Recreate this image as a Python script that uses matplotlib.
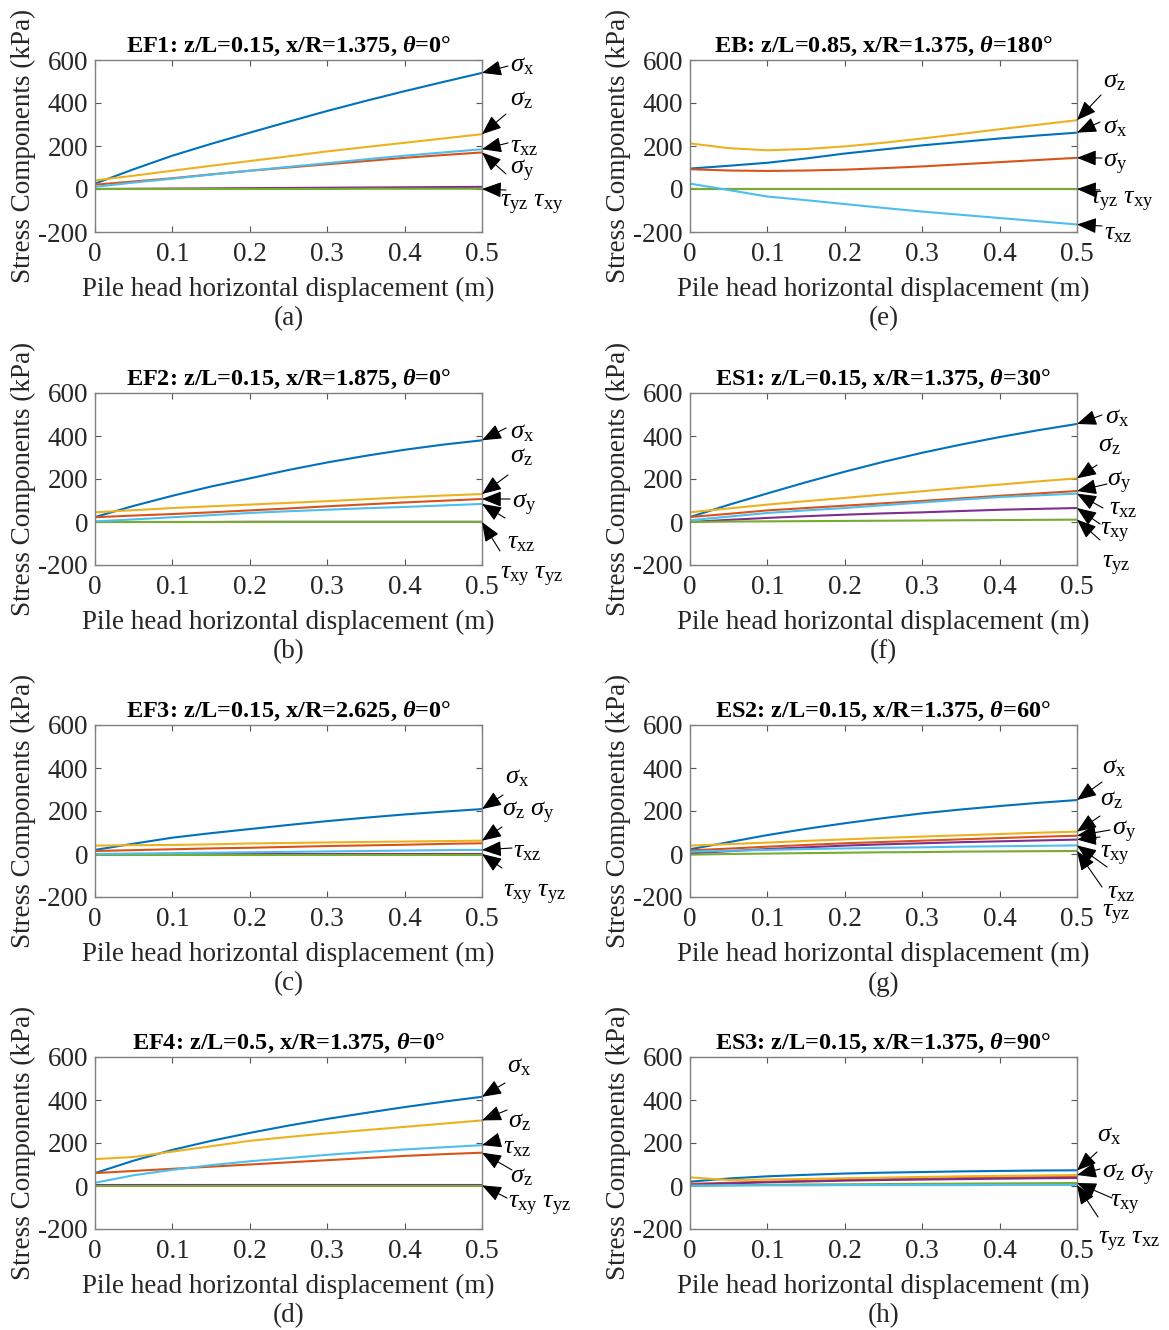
import numpy as np
import matplotlib
matplotlib.use('Agg')
import matplotlib.pyplot as plt

plt.rcParams['font.family'] = 'Liberation Serif'
plt.rcParams['mathtext.fontset'] = 'custom'
plt.rcParams['mathtext.rm'] = 'Liberation Serif'
plt.rcParams['mathtext.it'] = 'Liberation Serif:italic'
plt.rcParams['mathtext.bf'] = 'Liberation Serif:bold'
plt.rcParams['mathtext.bfit'] = 'Liberation Serif:italic:bold'
plt.rcParams['axes.unicode_minus'] = False

W, H = 1169, 1330

# horizontal displacement of the pile head (m)
disp = [0, 0.05, 0.1, 0.15, 0.2, 0.25, 0.3, 0.35, 0.4, 0.45, 0.5]

# stress components (kPa), order: sx, sy, sz, txy, tyz, txz
ef1 = [[25, 92, 155, 210, 262, 313, 363, 410, 455, 498, 540],
       [20, 35, 50, 68, 85, 100, 115, 130, 145, 158, 170],
       [40, 62, 85, 108, 130, 152, 175, 195, 215, 235, 255],
       [0, 1, 2, 3, 4, 5, 6, 7, 8, 9, 10],
       [0, 0, 0, 0, 0, 0, 0, 1, 1, 1, 1],
       [10, 30, 48, 67, 85, 103, 120, 138, 155, 170, 185]]
ef2 = [[23, 75, 122, 165, 203, 242, 277, 308, 336, 360, 380],
       [22, 30, 37, 45, 54, 63, 73, 82, 91, 99, 107],
       [45, 55, 65, 73, 81, 89, 97, 106, 115, 123, 130],
       [0, 0, 0, 0, 1, 1, 1, 1, 1, 1, 1],
       [0, 0, 0, 0, 0, 0, 0, 0, 0, 0, 0],
       [3, 12, 22, 32, 42, 50, 57, 64, 70, 77, 84]]
ef3 = [[19, 48, 76, 97, 116, 135, 153, 169, 184, 197, 209],
       [14, 18, 22, 26, 29, 33, 37, 40, 43, 47, 50],
       [39, 41, 42, 45, 49, 51, 54, 56, 58, 60, 62],
       [-2, -2, -2, -2, -2, -2, -2, -2, -2, -2, -2],
       [-4, -4, -4, -4, -4, -4, -4, -4, -4, -4, -4],
       [0, 2, 4, 6, 8, 10, 12, 14, 16, 18, 19]]
ef4 = [[60, 118, 168, 210, 247, 281, 312, 340, 367, 392, 415],
       [60, 70, 80, 90, 100, 110, 120, 130, 140, 148, 155],
       [125, 135, 160, 185, 210, 228, 245, 260, 275, 290, 305],
       [3, 3, 3, 3, 3, 3, 3, 3, 3, 3, 3],
       [2, 2, 2, 2, 2, 2, 2, 2, 2, 2, 2],
       [15, 50, 75, 97, 115, 130, 145, 158, 170, 180, 190]]
eb = [[95, 108, 122, 142, 165, 184, 203, 219, 235, 249, 262],
      [92, 86, 84, 86, 90, 97, 105, 115, 125, 135, 145],
      [212, 190, 180, 186, 198, 215, 235, 256, 278, 299, 320],
      [-1, -1, -1, -1, -1, -1, -1, -1, -1, -1, -1],
      [0, 0, 0, 0, 0, 0, 0, 0, 0, 0, 0],
      [25, -5, -35, -52, -70, -88, -105, -120, -135, -150, -165]]
es1 = [[23, 80, 133, 185, 234, 280, 322, 360, 395, 427, 456],
       [23, 38, 54, 65, 76, 87, 98, 110, 122, 133, 144],
       [45, 63, 81, 97, 112, 128, 143, 159, 174, 189, 203],
       [0, 10, 19, 27, 34, 40, 45, 51, 57, 61, 65],
       [0, 2, 3, 4, 5, 6, 7, 8, 9, 10, 11],
       [8, 25, 42, 54, 65, 78, 91, 104, 116, 124, 132]]
es2 = [[22, 55, 88, 117, 143, 167, 189, 207, 223, 238, 251],
       [17, 25, 34, 42, 50, 56, 62, 68, 74, 80, 85],
       [39, 46, 53, 61, 68, 75, 81, 87, 93, 99, 104],
       [3, 13, 23, 31, 39, 45, 50, 55, 59, 63, 67],
       [-3, 0, 2, 4, 6, 8, 9, 11, 12, 13, 14],
       [11, 15, 19, 23, 26, 29, 31, 34, 36, 38, 40]]
es3 = [[20, 35, 45, 52, 58, 62, 65, 68, 70, 72, 73],
       [10, 15, 20, 24, 28, 31, 34, 37, 39, 41, 42],
       [40, 28, 30, 33, 36, 39, 42, 45, 47, 49, 51],
       [5, 12, 17, 21, 25, 28, 30, 32, 34, 36, 37],
       [0, 3, 5, 7, 8, 9, 10, 11, 12, 13, 14],
       [2, 3, 3, 3, 4, 4, 4, 4, 5, 5, 5]]

titles = ['EF1: z/L=0.15, x/R=1.375, $\\mathbfit{\\theta}$=0°',
          'EF2: z/L=0.15, x/R=1.875, $\\mathbfit{\\theta}$=0°',
          'EF3: z/L=0.15, x/R=2.625, $\\mathbfit{\\theta}$=0°',
          'EF4: z/L=0.5, x/R=1.375, $\\mathbfit{\\theta}$=0°',
          'EB: z/L=0.85, x/R=1.375, $\\mathbfit{\\theta}$=180°',
          'ES1: z/L=0.15, x/R=1.375, $\\mathbfit{\\theta}$=30°',
          'ES2: z/L=0.15, x/R=1.375, $\\mathbfit{\\theta}$=60°',
          'ES3: z/L=0.15, x/R=1.375, $\\mathbfit{\\theta}$=90°']
captions = ['(a)', '(b)', '(c)', '(d)', '(e)', '(f)', '(g)', '(h)']
panels = [ef1, ef2, ef3, ef4, eb, es1, es2, es3]

colors = ['#0072BD', '#D95319', '#EDB120', '#7E2F8E', '#77AC30', '#4DBEEE']

sx = r'$\sigma_{\mathrm{x}}$'
sy = r'$\sigma_{\mathrm{y}}$'
sz = r'$\sigma_{\mathrm{z}}$'
txz = r'$\tau_{\mathrm{xz}}$'
txy = r'$\tau_{\mathrm{xy}}$'
tyz = r'$\tau_{\mathrm{yz}}$'
two = lambda a, b: a[:-1] + r'\ ' + b[1:]

# arrows: (tail x px, tail y px, target stress); labels: (text, left x px, center y px)
arrows = [
    [(508, 66, 540), (506, 114, 255), (508, 143, 185), (506, 174, 170), (506, 190, 0)],
    [(506, 428, 380), (508, 475, 130), (510, 499, 107), (505, 518, 84), (500, 551, 0)],
    [(503, 795, 209), (502, 827, 62), (512, 848, 19), (502, 868, 0)],
    [(505, 1083, 415), (507, 1110, 305), (500, 1140, 190), (512, 1170, 155), (507, 1198, 3)],
    [(1101, 95, 320), (1100, 122, 262), (1102, 158, 145), (1100, 190, 0), (1102, 226, -165)],
    [(1102, 415, 456), (1097, 465, 203), (1107, 484, 144), (1103, 508, 132), (1100, 524, 65), (1100, 540, 11)],
    [(1102, 782, 251), (1100, 816, 104), (1110, 830, 85), (1100, 837, 67), (1107, 867, 40), (1102, 887, 14)],
    [(1097, 1152, 72), (1100, 1169, 51), (1112, 1198, 14), (1098, 1217, 5)],
]
labels = [
    [(sx, 510, 66), (sz, 510, 100), (txz, 510, 147), (sy, 510, 171), (two(tyz, txy), 500, 205)],
    [(sx, 510, 433), (sz, 510, 457), (sy, 512, 505), (txz, 507, 543), (two(txy, tyz), 500, 577)],
    [(sx, 505, 778), (two(sz, sy), 502, 813), (txz, 513, 852), (two(txy, tyz), 503, 895)],
    [(sx, 507, 1067), (sz, 508, 1122), (txz, 503, 1148), (sz, 510, 1177), (two(txy, tyz), 508, 1206)],
    [(sz, 1103, 82), (sx, 1103, 128), (sy, 1103, 164), (two(tyz, txy), 1090, 202), (txz, 1104, 234)],
    [(sx, 1105, 418), (sz, 1098, 446), (sy, 1107, 483), (txz, 1109, 509), (txy, 1100, 533), (tyz, 1102, 566)],
    [(sx, 1102, 768), (sz, 1100, 800), (sy, 1112, 832), (txy, 1100, 856), (txz, 1107, 893), (tyz, 1102, 915)],
    [(sx, 1097, 1136), (two(sz, sy), 1102, 1175), (txy, 1110, 1205), (two(tyz, txz), 1098, 1242)],
]

fig = plt.figure(figsize=(W / 100, H / 100), dpi=100)

lefts = [95, 95, 95, 95, 690, 690, 690, 690]
tops = [60, 393, 725, 1057] * 2
aw, ah = 387, 172
fs = 19.5

for i in range(8):
    ax = fig.add_axes([lefts[i] / W, 1 - (tops[i] + ah) / H, aw / W, ah / H])
    for k in range(6):
        ax.plot(disp, panels[i][k], color=colors[k], lw=1.5)
    ax.set_xlim(0, 0.5)
    ax.set_ylim(-200, 600)
    ax.set_xticks([0, 0.1, 0.2, 0.3, 0.4, 0.5])
    ax.set_xticklabels(['0', '0.1', '0.2', '0.3', '0.4', '0.5'])
    ax.set_yticks([-200, 0, 200, 400, 600])
    ax.tick_params(direction='in', top=True, right=True, length=4, width=0.8,
                   color='#555555', labelsize=fs, labelcolor='#262626')
    ax.tick_params(axis='x', pad=7)
    ax.tick_params(axis='y', pad=5)
    for s in ax.spines.values():
        s.set_color('#808080')
        s.set_linewidth(1.0)
    ax.set_xlabel('Pile head horizontal displacement (m)', fontsize=fs, color='#262626', labelpad=7)
    ax.set_ylabel('Stress Components (kPa)', fontsize=fs, color='#262626', labelpad=2)
    ax.set_title(titles[i], fontsize=17.5, fontweight='bold', pad=6)
    fig.text((lefts[i] + aw / 2) / W, 1 - (tops[i] + 259) / H, captions[i],
             ha='center', va='center', fontsize=fs, color='#262626')

    for (tx, ty, val) in arrows[i]:
        ax.annotate('', xy=(0.5, val), xycoords='data',
                    xytext=(tx, H - ty), textcoords='figure pixels',
                    arrowprops=dict(arrowstyle='-|>,head_length=0.6,head_width=0.24',
                                    color='k', lw=0.8, mutation_scale=20,
                                    shrinkA=0, shrinkB=0),
                    annotation_clip=False)
    for (txt, lx, ly) in labels[i]:
        fig.text(lx / W, 1 - ly / H, txt, ha='left', va='center', fontsize=19)

fig.savefig('out.png', dpi=100)
